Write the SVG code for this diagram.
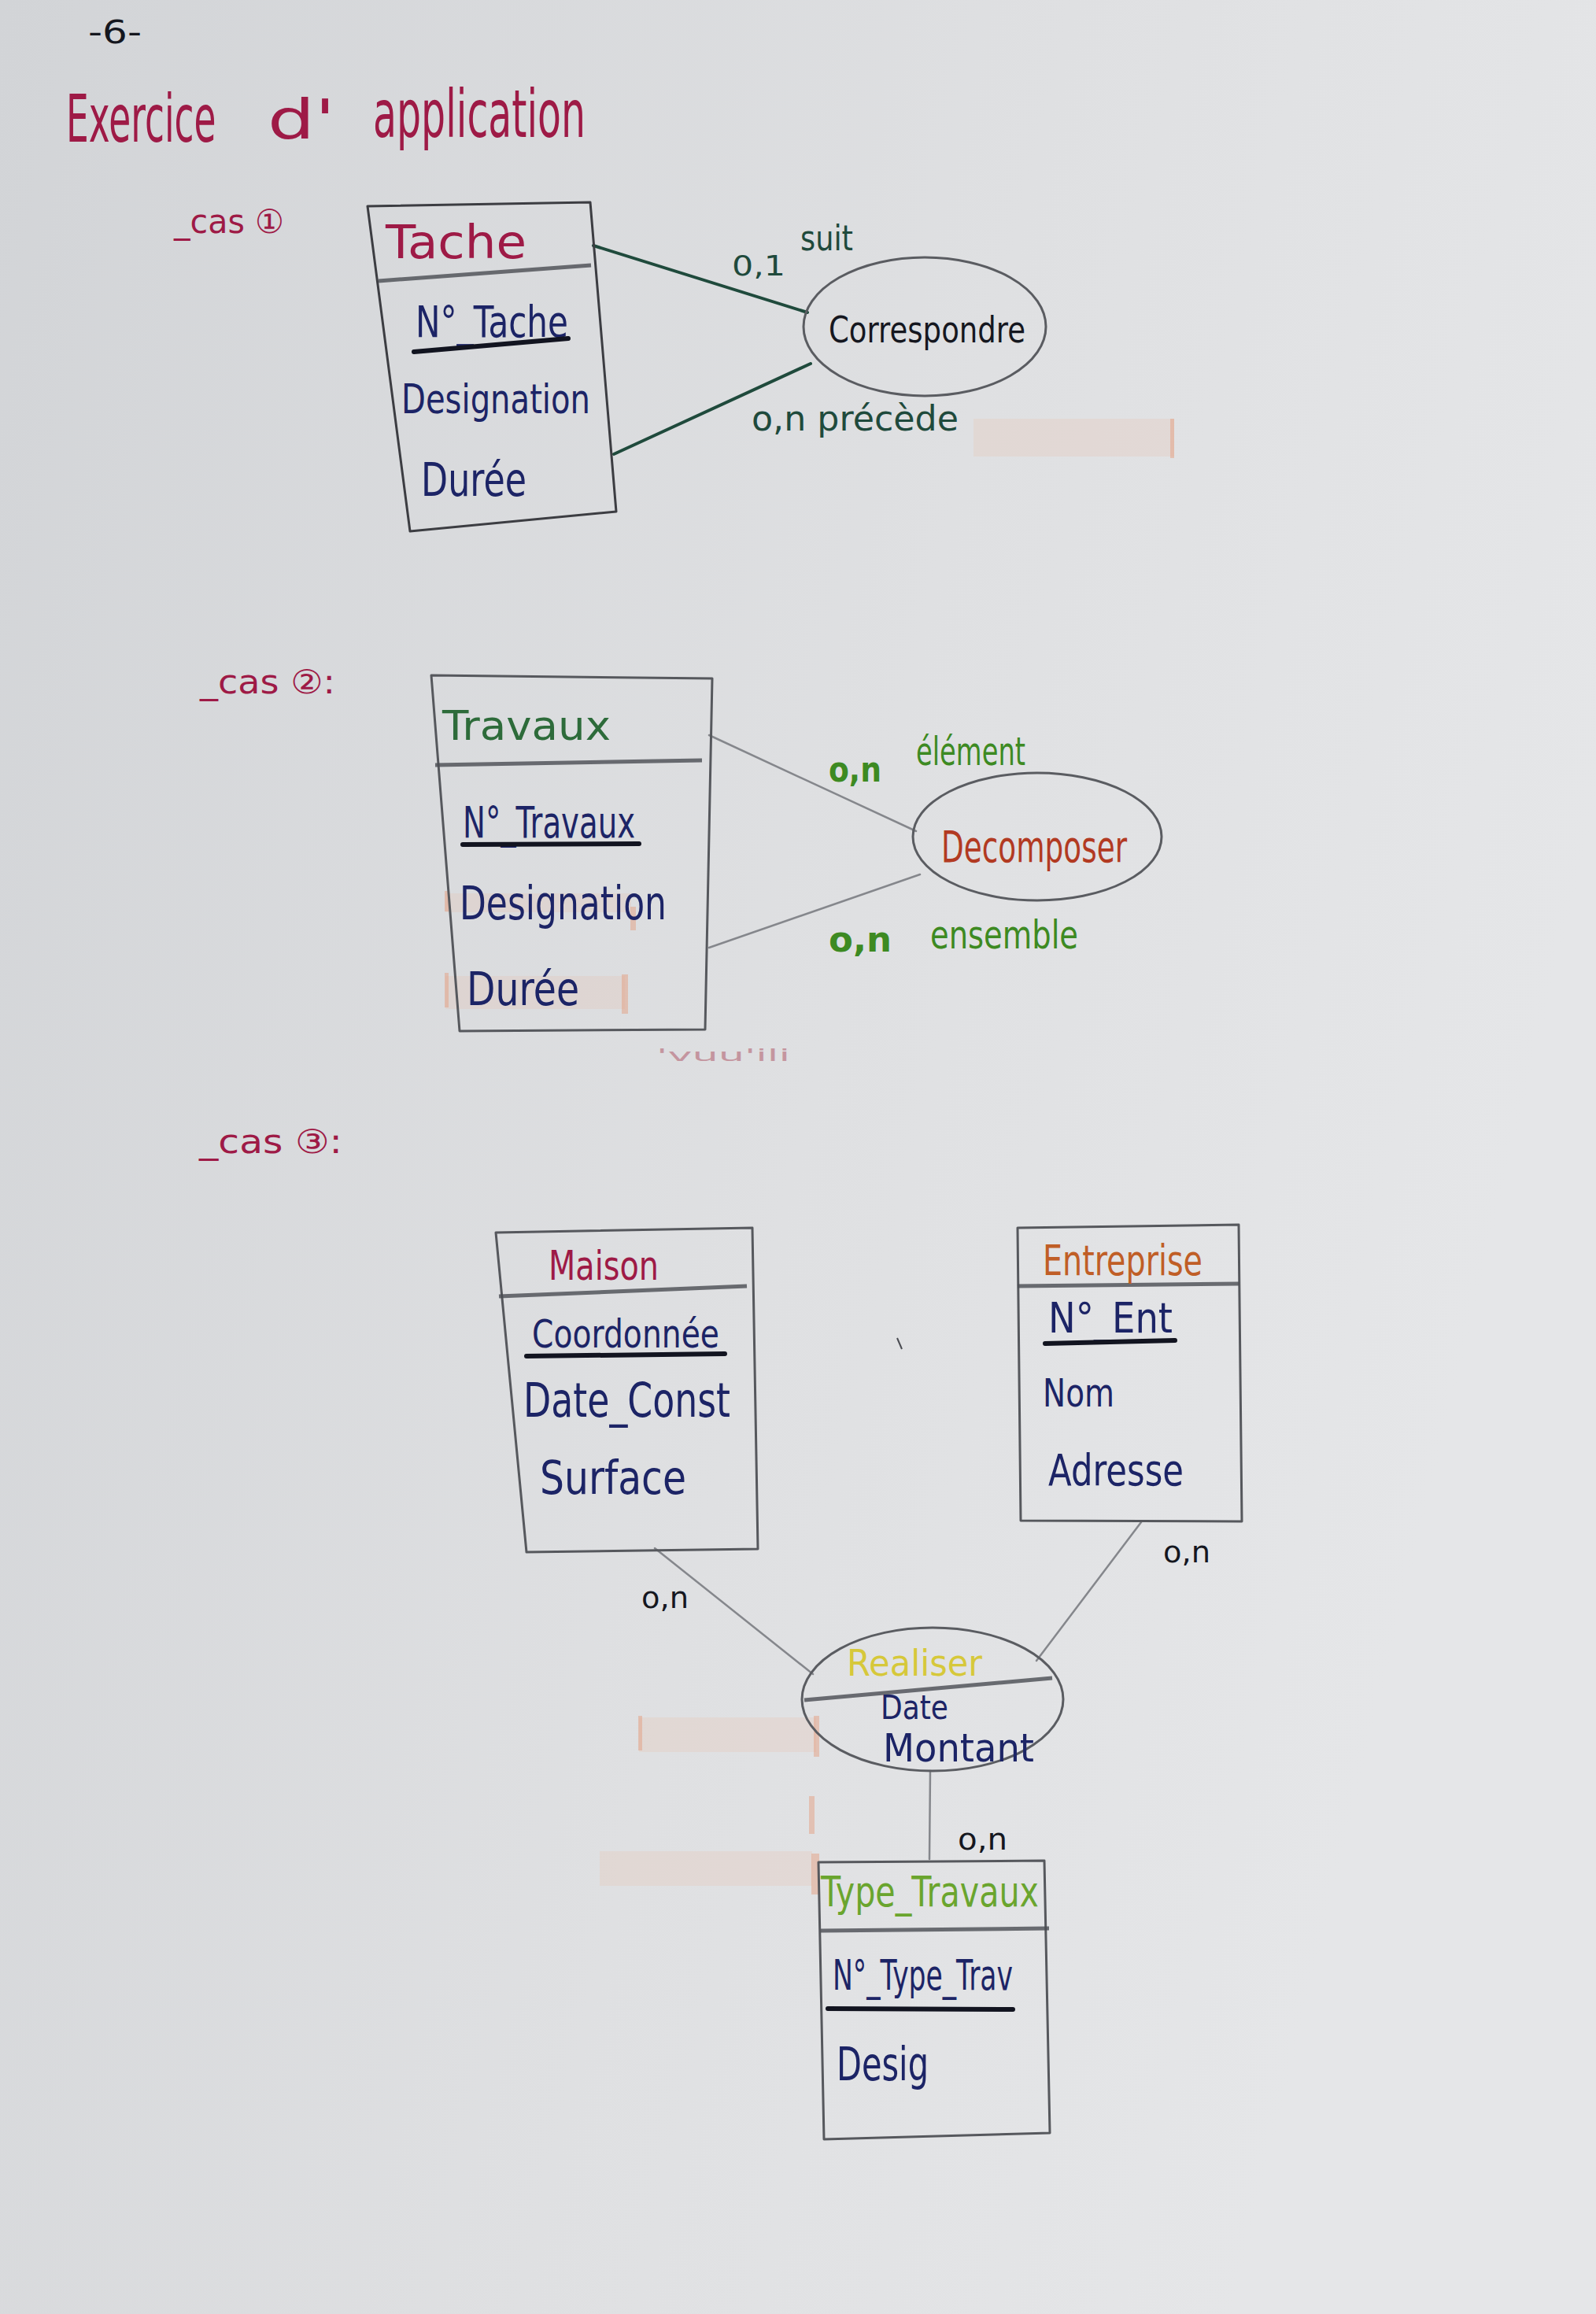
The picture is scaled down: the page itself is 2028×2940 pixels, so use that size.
<svg xmlns="http://www.w3.org/2000/svg" width="2028" height="2940" viewBox="0 0 2028 2940">
  <defs>
    <linearGradient id="paper" x1="0" y1="0" x2="1" y2="0.35">
      <stop offset="0" stop-color="#d2d4d7"/>
      <stop offset="0.6" stop-color="#dfe0e2"/>
      <stop offset="1" stop-color="#e5e6e8"/>
    </linearGradient>
    <style>
      text { font-family: "DejaVu Sans", "Noto Sans CJK SC", sans-serif; }
      .crimson { fill: #9e1a46; }
      .navy { fill: #1c2466; }
      .ink { fill: #15171f; }
      .teal { fill: #1f4a3c; }
      .leaf { fill: #3d8a22; }
      .box { fill: none; stroke: #3c3d42; stroke-width: 3; stroke-linejoin: round; }
      .box-soft { fill: none; stroke: #56585d; stroke-width: 3; stroke-linejoin: round; }
      .sep { fill: none; stroke: #4a4c52; stroke-width: 5; opacity: 0.8; }
      .uline { stroke: #121420; stroke-width: 6; stroke-linecap: round; }
      .assoc { fill: none; stroke: #5a5c61; stroke-width: 3; }
      .link-dark { fill: none; stroke: #1f4a3c; stroke-width: 4; stroke-linecap: round; }
      .link-pencil { fill: none; stroke: #85878c; stroke-width: 2.5; stroke-linecap: round; }
      .bleed { fill: #e8b9a6; opacity: 0.22; }
      .bleed-bar { fill: #e59a78; opacity: 0.45; }
    </style>
  </defs>

  <!-- sheet -->
  <rect x="0" y="0" width="2028" height="2940" fill="url(#paper)"/>

  <!-- marker bleed-through from the back of the sheet -->
  <g id="bleed">
    <rect class="bleed" x="1237" y="532" width="255" height="48"/>
    <rect class="bleed-bar" x="1487" y="532" width="5" height="50"/>
    <rect class="bleed" x="566" y="1135" width="236" height="24"/>
    <rect class="bleed" x="566" y="1240" width="228" height="42"/>
    <rect class="bleed-bar" x="565" y="1132" width="5" height="26"/>
    <rect class="bleed-bar" x="801" y="1152" width="7" height="30"/>
    <rect class="bleed-bar" x="790" y="1238" width="8" height="50"/>
    <rect class="bleed-bar" x="565" y="1236" width="5" height="44"/>
    <rect class="bleed" x="812" y="2182" width="225" height="44"/>
    <rect class="bleed-bar" x="1034" y="2180" width="7" height="52"/>
    <rect class="bleed-bar" x="811" y="2180" width="5" height="44"/>
    <rect class="bleed" x="762" y="2352" width="270" height="44"/>
    <rect class="bleed-bar" x="1028" y="2282" width="7" height="48"/>
    <rect class="bleed-bar" x="1031" y="2355" width="10" height="52"/>
    <text x="834" y="1348" font-size="22" fill="#b05a6a" opacity="0.55" textLength="170" lengthAdjust="spacingAndGlyphs">'vuu'ili</text>
  </g>

  <!-- page number and heading -->
  <g id="heading">
    <text class="ink" x="112" y="55" font-size="40" textLength="68" lengthAdjust="spacingAndGlyphs">-6-</text>
    <!-- narrow hand lettering: glyphs squeezed horizontally -->
    <text class="crimson" transform="translate(84,180) scale(0.5415,1)" x="0" y="0" font-size="84">Exercice</text>
    <text class="crimson" x="340" y="176" font-size="70" textLength="86" lengthAdjust="spacingAndGlyphs">d'</text>
    <text class="crimson" transform="translate(474,174) scale(0.583,1)" x="0" y="0" font-size="84">application</text>
  </g>

  <!-- case labels -->
  <g id="case-labels">
    <text class="crimson" x="221" y="296" font-size="42" textLength="140" lengthAdjust="spacingAndGlyphs">_cas ①</text>
    <text class="crimson" x="254" y="881" font-size="42" textLength="172" lengthAdjust="spacingAndGlyphs">_cas ②:</text>
    <text class="crimson" x="253" y="1465" font-size="42" textLength="182" lengthAdjust="spacingAndGlyphs">_cas ③:</text>
  </g>

  <!-- connectors -->
  <g id="connectors">
    <line class="link-dark" x1="754" y1="312" x2="1026" y2="397"/>
    <line class="link-dark" x1="780" y1="577" x2="1030" y2="462"/>
    <line class="link-pencil" x1="901" y1="934" x2="1164" y2="1056"/>
    <line class="link-pencil" x1="901" y1="1204" x2="1169" y2="1111"/>
    <line class="link-pencil" x1="832" y1="1967" x2="1033" y2="2127"/>
    <line class="link-pencil" x1="1450" y1="1934" x2="1317" y2="2110"/>
    <line class="link-pencil" x1="1182" y1="2250" x2="1181" y2="2362" stroke="#55575c" stroke-width="3.5"/>
  </g>

  <!-- cardinalities and roles -->
  <g id="connector-labels">
    <text class="teal" x="930" y="350" font-size="36" textLength="68" lengthAdjust="spacingAndGlyphs">0,1</text>
    <text class="teal" x="1017" y="318" font-size="44" textLength="67" lengthAdjust="spacingAndGlyphs">suit</text>
    <text class="teal" x="955" y="547" font-size="44" textLength="263" lengthAdjust="spacingAndGlyphs">o,n précède</text>
    <text class="leaf" x="1053" y="993" font-size="44" font-weight="bold" textLength="67" lengthAdjust="spacingAndGlyphs">o,n</text>
    <text class="leaf" x="1164" y="972" font-size="50" textLength="139" lengthAdjust="spacingAndGlyphs">élément</text>
    <text class="leaf" x="1053" y="1209" font-size="44" font-weight="bold" textLength="80" lengthAdjust="spacingAndGlyphs">o,n</text>
    <text class="leaf" x="1182" y="1205" font-size="50" textLength="188" lengthAdjust="spacingAndGlyphs">ensemble</text>
    <text class="ink" x="815" y="2043" font-size="38" textLength="60" lengthAdjust="spacingAndGlyphs">o,n</text>
    <text class="ink" x="1478" y="1985" font-size="38" textLength="60" lengthAdjust="spacingAndGlyphs">o,n</text>
    <text class="ink" x="1217" y="2350" font-size="38" textLength="63" lengthAdjust="spacingAndGlyphs">o,n</text>
  </g>

  <!-- entity Tache -->
  <g id="tache">
    <polygon class="box" points="467,262 750,257 783,650 521,675" stroke-width="4"/>
    <line class="sep" x1="481" y1="357" x2="751" y2="337"/>
    <text class="crimson" x="490" y="328" font-size="58" textLength="179" lengthAdjust="spacingAndGlyphs">Tache</text>
    <text class="navy" x="528" y="428" font-size="56" textLength="194" lengthAdjust="spacingAndGlyphs">N°_Tache</text>
    <line class="uline" x1="526" y1="447" x2="722" y2="430"/>
    <text class="navy" x="510" y="525" font-size="52" textLength="240" lengthAdjust="spacingAndGlyphs">Designation</text>
    <text class="navy" x="535" y="630" font-size="58" textLength="134" lengthAdjust="spacingAndGlyphs">Durée</text>
  </g>

  <!-- association Correspondre -->
  <g id="correspondre">
    <ellipse class="assoc" cx="1175" cy="415" rx="154" ry="88"/>
    <text class="ink" x="1053" y="435" font-size="46" textLength="250" lengthAdjust="spacingAndGlyphs">Correspondre</text>
  </g>

  <!-- entity Travaux -->
  <g id="travaux">
    <polygon class="box-soft" points="548,858 905,862 896,1308 584,1310"/>
    <line class="sep" x1="553" y1="972" x2="892" y2="966"/>
    <text x="562" y="940" font-size="52" fill="#2d6b3a" textLength="214" lengthAdjust="spacingAndGlyphs">Travaux</text>
    <text class="navy" x="588" y="1064" font-size="56" textLength="219" lengthAdjust="spacingAndGlyphs">N°_Travaux</text>
    <line class="uline" x1="588" y1="1073" x2="812" y2="1072"/>
    <text class="navy" x="584" y="1168" font-size="58" textLength="263" lengthAdjust="spacingAndGlyphs">Designation</text>
    <text class="navy" x="593" y="1277" font-size="58" textLength="143" lengthAdjust="spacingAndGlyphs">Durée</text>
  </g>

  <!-- association Decomposer -->
  <g id="decomposer">
    <ellipse class="assoc" cx="1318" cy="1063" rx="158" ry="81"/>
    <text x="1196" y="1095" font-size="56" fill="#b23a22" textLength="236" lengthAdjust="spacingAndGlyphs">Decomposer</text>
  </g>

  <!-- entity Maison -->
  <g id="maison">
    <polygon class="box-soft" points="630,1566 956,1560 963,1968 669,1972"/>
    <line class="sep" x1="634" y1="1647" x2="949" y2="1634"/>
    <text class="crimson" x="697" y="1626" font-size="52" textLength="140" lengthAdjust="spacingAndGlyphs">Maison</text>
    <text class="navy" x="676" y="1712" font-size="50" textLength="238" lengthAdjust="spacingAndGlyphs">Coordonnée</text>
    <line class="uline" x1="669" y1="1723" x2="921" y2="1720"/>
    <text class="navy" x="665" y="1800" font-size="60" textLength="263" lengthAdjust="spacingAndGlyphs">Date_Const</text>
    <text class="navy" x="686" y="1898" font-size="58" textLength="186" lengthAdjust="spacingAndGlyphs">Surface</text>
  </g>

  <!-- entity Entreprise -->
  <g id="entreprise">
    <polygon class="box-soft" points="1293,1560 1574,1556 1578,1933 1297,1932"/>
    <line class="sep" x1="1293" y1="1634" x2="1574" y2="1631"/>
    <text x="1325" y="1620" font-size="54" fill="#c05e26" textLength="203" lengthAdjust="spacingAndGlyphs">Entreprise</text>
    <text class="navy" x="1332" y="1693" font-size="54" textLength="158" lengthAdjust="spacingAndGlyphs">N°_Ent</text>
    <line class="uline" x1="1328" y1="1707" x2="1493" y2="1703"/>
    <text class="navy" x="1325" y="1787" font-size="50" textLength="91" lengthAdjust="spacingAndGlyphs">Nom</text>
    <text class="navy" x="1332" y="1887" font-size="56" textLength="172" lengthAdjust="spacingAndGlyphs">Adresse</text>
  </g>

  <!-- stray pencil tick -->
  <line x1="1140" y1="1700" x2="1146" y2="1714" stroke="#4a4c52" stroke-width="2"/>

  <!-- association Realiser -->
  <g id="realiser">
    <ellipse class="assoc" cx="1185" cy="2159" rx="166" ry="91"/>
    <line class="sep" x1="1022" y1="2160" x2="1337" y2="2132"/>
    <text x="1076" y="2129" font-size="46" fill="#d6c83a" textLength="172" lengthAdjust="spacingAndGlyphs">Realiser</text>
    <text class="navy" x="1119" y="2184" font-size="42" textLength="86" lengthAdjust="spacingAndGlyphs">Date</text>
    <text class="navy" x="1122" y="2238" font-size="50" textLength="192" lengthAdjust="spacingAndGlyphs">Montant</text>
  </g>

  <!-- entity Type_Travaux -->
  <g id="type-travaux">
    <polygon class="box-soft" points="1040,2366 1327,2364 1334,2710 1047,2718"/>
    <line class="sep" x1="1043" y1="2453" x2="1333" y2="2450"/>
    <text x="1043" y="2422" font-size="54" fill="#6aa52e" textLength="277" lengthAdjust="spacingAndGlyphs">Type_Travaux</text>
    <text class="navy" x="1058" y="2528" font-size="54" textLength="229" lengthAdjust="spacingAndGlyphs">N°_Type_Trav</text>
    <line class="uline" x1="1052" y1="2552" x2="1287" y2="2553"/>
    <text class="navy" x="1063" y="2643" font-size="58" textLength="117" lengthAdjust="spacingAndGlyphs">Desig</text>
  </g>
</svg>
